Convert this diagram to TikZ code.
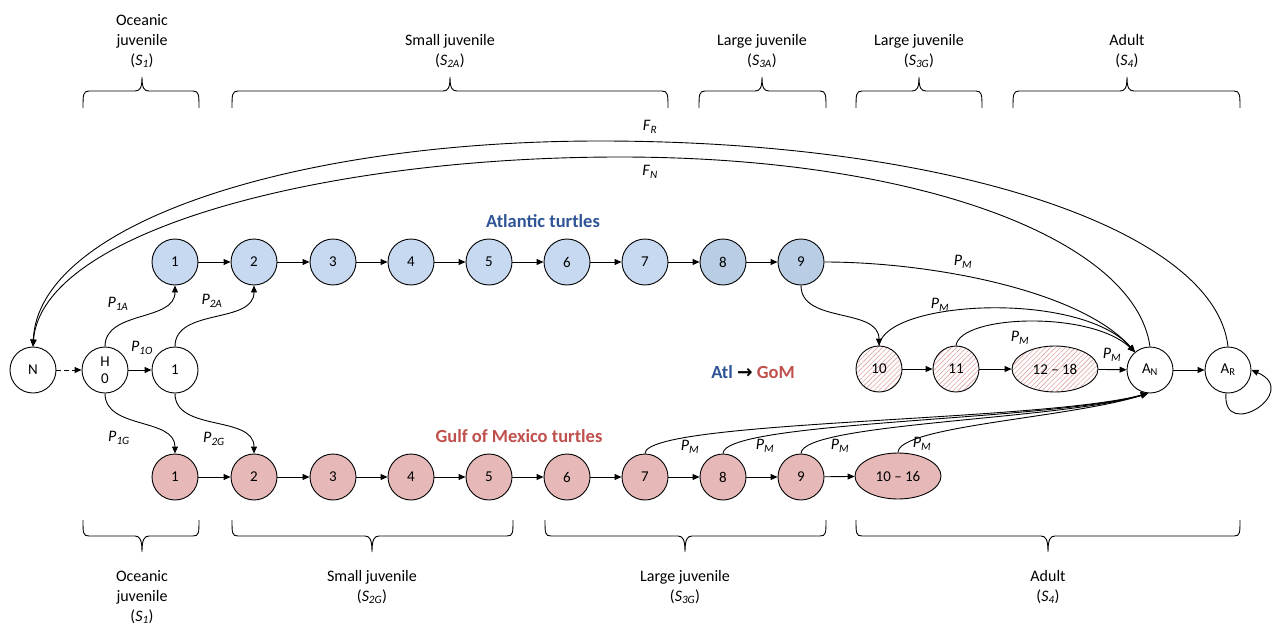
\documentclass[tikz,border=0pt]{standalone}
\usepackage{fontspec}
\setmainfont{Carlito}
\newfontfamily\djv{DejaVu Sans}
\usetikzlibrary{arrows.meta,shapes.geometric,patterns.meta}
\definecolor{atlfill}{HTML}{C6D9F1}
\definecolor{atldark}{HTML}{B9CDE5}
\definecolor{gomfill}{HTML}{E6B9B8}
\definecolor{hatchc}{HTML}{DFA3A1}
\definecolor{atltext}{HTML}{2F5597}
\definecolor{gomtext}{HTML}{C0504D}
\newcommand\plab[2]{\textit{#1}\textsubscript{\textit{#2}}}
\newcommand\topbr[3]{\draw[brc] (#1,108) .. controls (#1,95) and (#1,91) .. ({#1+6},91) -- ({#2-7},91) .. controls ({#2-2},91) and (#2,88) .. (#2,77) .. controls (#2,88) and ({#2+2},91) .. ({#2+7},91) -- ({#3-6},91) .. controls (#3,91) and (#3,95) .. (#3,108);}
\newcommand\botbr[3]{\draw[brc] (#1,520) .. controls (#1,533) and (#1,536) .. ({#1+6},536) -- ({#2-7},536) .. controls ({#2-2},536) and (#2,540) .. (#2,552) .. controls (#2,540) and ({#2+2},536) .. ({#2+7},536) -- ({#3-6},536) .. controls (#3,536) and (#3,533) .. (#3,520);}
\begin{document}
\begin{tikzpicture}[x=1pt,y=-1pt,
  stage/.style={circle,draw,line width=0.9pt,minimum size=46pt,inner sep=0pt,font=\fontsize{15}{17}\selectfont},
  atl/.style={stage,fill=atlfill},
  atld/.style={stage,fill=atldark},
  gom/.style={stage,fill=gomfill},
  hatchnode/.style={preaction={fill=white},pattern={Lines[angle=45,distance=3.5pt,line width=0.6pt]},pattern color=hatchc},
  ellnode/.style={ellipse,draw,line width=0.9pt,minimum width=86pt,minimum height=46pt,inner sep=0pt,font=\fontsize{15}{17}\selectfont},
  arr/.style={-{Triangle[length=7pt,width=6pt]},line width=0.9pt},
  brc/.style={line width=0.9pt},
  lbl/.style={font=\fontsize{16}{18}\selectfont,inner sep=0pt},
  stagetext/.style={font=\fontsize{16}{20}\selectfont,align=center,inner sep=0pt},
  title/.style={font=\fontsize{18.5}{20}\selectfont\bfseries,inner sep=0pt}
]
\useasboundingbox (0,0) rectangle (1272,626);

% stage brackets top
\topbr{83}{142}{199}
\topbr{232}{450}{668}
\topbr{699}{762}{826}
\topbr{856}{919}{982}
\topbr{1013}{1127}{1240}
\node[stagetext] (t1) at (142,41) {Oceanic\\juvenile\\(\textit{S}\textsubscript{\textit{1}})};
\node[stagetext] (t2) at (450,51) {Small juvenile\\(\textit{S}\textsubscript{\textit{2A}})};
\node[stagetext] (t3) at (762,51) {Large juvenile\\(\textit{S}\textsubscript{\textit{3A}})};
\node[stagetext] (t4) at (919,51) {Large juvenile\\(\textit{S}\textsubscript{\textit{3G}})};
\node[stagetext] (t5) at (1127,51) {Adult\\(\textit{S}\textsubscript{\textit{4}})};

% stage brackets bottom
\botbr{83}{142}{199}
\botbr{232}{372}{513}
\botbr{545}{685}{826}
\botbr{856}{1048}{1240}
\node[stagetext] (b1) at (142,597) {Oceanic\\juvenile\\(\textit{S}\textsubscript{\textit{1}})};
\node[stagetext] (b2) at (372,587) {Small juvenile\\(\textit{S}\textsubscript{\textit{2G}})};
\node[stagetext] (b3) at (685,587) {Large juvenile\\(\textit{S}\textsubscript{\textit{3G}})};
\node[stagetext] (b4) at (1048,587) {Adult\\(\textit{S}\textsubscript{\textit{4}})};

% titles
\node[title,text=atltext] (atitle) at (543,221) {Atlantic turtles};
\node[title,text=gomtext] (gtitle) at (519,436) {Gulf of Mexico turtles};
\node[title] (move) at (753,372) {\textcolor{atltext}{Atl} {\djv\bfseries →} \textcolor{gomtext}{GoM}};

% nodes
\node[stage] (N) at (33,370) {N};
\node[stage,align=center] (H0) at (105,370) {H\\0};
\node[stage] (M1) at (175,370) {1};
\foreach \i/\x in {1/175,2/254,3/333,4/411,5/489,6/567,7/645}{
  \node[atl] (A\i) at (\x,262) {\i};
}
\node[atld] (A8) at (723,262) {8};
\node[atld] (A9) at (801,262) {9};
\foreach \i/\x in {1/175,2/254,3/333,4/411,5/489,6/567,7/645,8/723,9/801}{
  \node[gom] (G\i) at (\x,477) {\i};
}
\node[ellnode,fill=gomfill] (G10) at (898,476) {10 – 16};
\node[stage,hatchnode] (H10) at (879,369) {10};
\node[stage,hatchnode] (H11) at (956,369) {11};
\node[ellnode,hatchnode] (H12) at (1055,369) {12 – 18};
\node[stage] (AN) at (1150,370) {A\textsubscript{N}};
\node[stage] (AR) at (1228,370) {A\textsubscript{R}};

% chains
\foreach \i [evaluate=\i as \j using int(\i+1)] in {1,...,8}{
  \draw[arr] (A\i) -- (A\j);
}
\foreach \i [evaluate=\i as \j using int(\i+1)] in {1,...,9}{
  \draw[arr] (G\i) -- (G\j);
}
\draw[arr,dash pattern=on 5pt off 3pt] (N) -- (H0);
\draw[arr] (H0) -- (M1);
\draw[arr] (H0.north) to[out=90,in=-90] (A1.south);
\draw[arr] (M1.north) to[out=90,in=-90] (A2.south);
\draw[arr] (H0.south) to[out=-90,in=90] (G1.north);
\draw[arr] (M1.south) to[out=-90,in=90] (G2.north);
\draw[arr] (H10) -- (H11);
\draw[arr] (H11) -- (H12);
\draw[arr] (H12) -- (AN);
\draw[arr] (AN) -- (AR);

% to adult
\draw[arr] (A9.east) .. controls (930,262) and (1080,290) .. (AN.130);
\draw[arr] (A9.south) to[out=-90,in=90] (H10.north);
\draw[arr] (H10.north) .. controls (885,300) and (1080,290) .. (AN.130);
\draw[arr] (H11.north) .. controls (960,315) and (1090,310) .. (AN.130);
\draw[arr] (G7.north) .. controls (645,420) and (1040,422) .. (AN.265);
\draw[arr] (G8.north) .. controls (723,421) and (1050,421) .. (AN.265);
\draw[arr] (G9.north) .. controls (801,423) and (1060,420) .. (AN.265);
\draw[arr] (G10.north) .. controls (898,426) and (1070,418) .. (AN.265);
\draw[arr] (AR.265) .. controls (1222,442) and (1302,392) .. (AR.east);

% fecundity
\draw[arr] (AN.north) .. controls (1135,240) and (920,157) .. (620,157) .. controls (320,157) and (42,232) .. (N.north);
\draw[arr] (AR.north) .. controls (1215,230) and (950,141) .. (600,141) .. controls (290,141) and (38,225) .. (N.north);

% labels
\node[lbl] (l1a) at (118,304) {\plab{P}{1A}};
\node[lbl] (l2a) at (212,301) {\plab{P}{2A}};
\node[lbl] (l1o) at (142,348) {\plab{P}{1O}};
\node[lbl] (l1g) at (119,438) {\plab{P}{1G}};
\node[lbl] (l2g) at (214,439) {\plab{P}{2G}};
\node[lbl] (fr) at (650,127) {\plab{F}{R}};
\node[lbl] (fn) at (650,172) {\plab{F}{N}};
\node[lbl] (pm1) at (963,262) {\plab{P}{M}};
\node[lbl] (pm2) at (940,305) {\plab{P}{M}};
\node[lbl] (pm3) at (1020,338) {\plab{P}{M}};
\node[lbl] (pm4) at (1112,355) {\plab{P}{M}};
\node[lbl] (pm5) at (690,447) {\plab{P}{M}};
\node[lbl] (pm6) at (765,446) {\plab{P}{M}};
\node[lbl] (pm7) at (840,446) {\plab{P}{M}};
\node[lbl] (pm8) at (922,444) {\plab{P}{M}};
\end{tikzpicture}
\end{document}
